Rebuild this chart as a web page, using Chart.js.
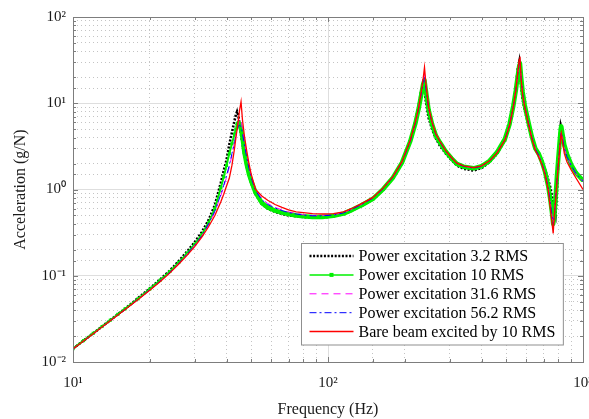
<!DOCTYPE html>
<html>
<head>
<meta charset="utf-8">
<script src="https://cdn.jsdelivr.net/npm/chart.js@4.4.1/dist/chart.umd.min.js"></script>
<style>
  html, body { margin: 0; padding: 0; background: #fff; }
  canvas { display: block; }
</style>
</head>
<body>
<canvas id="frf" width="589" height="419"></canvas>
<script>
// Frequency axis (Hz), shared by all five measurements
const freqHz = [
  10, 11, 12, 13, 14, 15, 16, 18, 20, 22, 24, 26, 28, 30, 32, 34, 36, 38, 39, 40,
  41, 42, 43, 43.5, 44, 44.5, 45, 45.6, 46.2, 47, 48, 49, 50, 52, 55, 58, 62, 66, 70, 75,
  80, 87, 95, 105, 115, 125, 136, 150, 165, 180, 195, 210, 220, 227, 232, 236, 239, 242, 248, 256,
  265, 275, 290, 305, 320, 340, 372, 400, 430, 460, 494, 515, 533, 545, 555, 562, 566, 572, 580, 591,
  610, 630, 650, 670, 690, 710, 730, 745, 755, 764, 772, 780, 790, 800, 810, 818, 822, 830, 845, 865, 899, 940, 1000
];

// Acceleration (g/N)
const accel32 = [
  0.0143, 0.0177, 0.0215, 0.0258, 0.0306, 0.0358, 0.0415, 0.055, 0.071, 0.091, 0.115, 0.148, 0.19, 0.245, 0.32, 0.44, 0.66, 1.2, 1.65, 2.2,
  3.3, 4.6, 6.3, 7.3, 8.0, 7.2, 5.6, 4.3, 3.4, 2.5, 1.85, 1.45, 1.18, 0.88, 0.68, 0.6, 0.55, 0.52, 0.5, 0.49,
  0.48, 0.47, 0.47, 0.49, 0.515, 0.575, 0.65, 0.77, 1.0, 1.37, 2.05, 3.6, 6.0, 9.5, 14, 16.5, 14, 10.5, 6.8, 5.0,
  3.9, 3.2, 2.6, 2.2, 1.9, 1.74, 1.66, 1.77, 2.08, 2.6, 3.75, 5.6, 9.5, 15, 25, 30, 23, 15.5, 11, 8.3,
  5.8, 4.0, 3.0, 2.55, 2.1, 1.7, 1.3, 1.05, 0.85, 0.68, 0.56, 0.5, 0.9, 2.2, 4.0, 5.5, 5.2, 4.2, 3.1, 2.5, 1.9, 1.55, 1.27
];
const accel10 = [
  0.0143, 0.0177, 0.0215, 0.0258, 0.0305, 0.0357, 0.0413, 0.054, 0.07, 0.089, 0.112, 0.143, 0.182, 0.232, 0.3, 0.41, 0.6, 1.05, 1.4, 1.9,
  2.6, 3.4, 4.4, 5.0, 5.5, 5.9, 5.8, 5.0, 4.0, 2.7, 1.95, 1.5, 1.25, 0.92, 0.7, 0.62, 0.57, 0.54, 0.52, 0.5,
  0.49, 0.48, 0.48, 0.495, 0.525, 0.585, 0.66, 0.78, 1.02, 1.38, 2.05, 3.6, 5.8, 8.8, 12.5, 16.5, 18.5, 14, 8.4, 5.7,
  4.2, 3.5, 2.75, 2.3, 1.98, 1.84, 1.76, 1.86, 2.15, 2.7, 3.85, 5.7, 9.3, 14, 21, 27, 29, 20, 13.5, 9.5,
  6.2, 4.1, 3.0, 2.6, 2.1, 1.6, 1.1, 0.75, 0.55, 0.4, 0.5, 0.78, 1.4, 2.3, 3.6, 5.1, 5.4, 4.5, 3.3, 2.6, 1.94, 1.55, 1.27
];
const accel316 = [
  0.0142, 0.0175, 0.0212, 0.0254, 0.03, 0.035, 0.0405, 0.053, 0.068, 0.087, 0.109, 0.139, 0.176, 0.224, 0.29, 0.39, 0.55, 0.85, 1.08, 1.38,
  1.8, 2.5, 3.5, 4.2, 5.1, 6.0, 6.6, 6.3, 5.1, 3.6, 2.5, 1.85, 1.42, 1.0, 0.78, 0.69, 0.62, 0.58, 0.55, 0.53,
  0.51, 0.5, 0.5, 0.51, 0.54, 0.6, 0.68, 0.8, 1.04, 1.41, 2.08, 3.65, 5.9, 9.0, 13, 18, 22, 16, 8.9, 6.0,
  4.4, 3.6, 2.8, 2.35, 2.02, 1.87, 1.78, 1.87, 2.15, 2.66, 3.78, 5.55, 9.1, 14, 22, 30, 31, 19.5, 13, 9.2,
  6.0, 4.0, 2.95, 2.5, 2.0, 1.55, 1.05, 0.7, 0.5, 0.4, 0.5, 0.78, 1.3, 2.0, 3.1, 4.3, 4.7, 4.0, 3.0, 2.4, 1.9, 1.52, 1.24
];
const accel562 = [
  0.0142, 0.0175, 0.0213, 0.0255, 0.0301, 0.0352, 0.0408, 0.0535, 0.069, 0.087, 0.11, 0.14, 0.178, 0.227, 0.29, 0.4, 0.56, 0.88, 1.12, 1.45,
  1.9, 2.6, 3.6, 4.2, 4.9, 5.4, 5.6, 5.3, 4.5, 3.3, 2.35, 1.75, 1.36, 0.97, 0.76, 0.67, 0.61, 0.57, 0.54, 0.52,
  0.505, 0.495, 0.495, 0.505, 0.535, 0.595, 0.675, 0.795, 1.035, 1.4, 2.07, 3.6, 5.9, 8.9, 12.8, 17.5, 20, 15, 8.7, 5.9,
  4.35, 3.55, 2.78, 2.33, 2.0, 1.86, 1.77, 1.86, 2.14, 2.66, 3.78, 5.55, 9.1, 14, 22, 29, 29.5, 19.5, 13, 9.2,
  6.0, 4.0, 2.95, 2.5, 2.0, 1.55, 1.05, 0.7, 0.5, 0.38, 0.48, 0.76, 1.28, 2.0, 3.1, 4.3, 4.6, 4.0, 3.0, 2.4, 1.9, 1.52, 1.24
];
const accelBare = [
  0.0142, 0.0175, 0.0212, 0.0254, 0.03, 0.035, 0.0405, 0.053, 0.068, 0.086, 0.108, 0.137, 0.172, 0.218, 0.28, 0.37, 0.5, 0.72, 0.88, 1.1,
  1.35, 1.9, 3.0, 3.9, 5.0, 6.4, 8.3, 10.4, 6.4, 4.2, 2.8, 2.0, 1.5, 1.0, 0.84, 0.75, 0.67, 0.62, 0.58, 0.55,
  0.54, 0.525, 0.52, 0.525, 0.55, 0.61, 0.69, 0.81, 1.05, 1.42, 2.1, 3.7, 6.0, 9.1, 13.5, 19, 26, 17, 9.1, 6.0,
  4.4, 3.6, 2.8, 2.35, 2.02, 1.88, 1.79, 1.88, 2.15, 2.65, 3.76, 5.5, 9.1, 14, 23, 32, 34.7, 19, 12.5, 9.1,
  5.86, 3.9, 2.85, 2.4, 1.95, 1.5, 1.0, 0.6, 0.42, 0.31, 0.5, 0.72, 1.2, 1.9, 2.9, 4.1, 4.49, 3.7, 2.6, 2.1, 1.69, 1.35, 1.0
];

const seriesLabels = [
  'Power excitation 3.2 RMS',
  'Power excitation 10 RMS',
  'Power excitation 31.6 RMS',
  'Power excitation 56.2 RMS',
  'Bare beam excited by 10 RMS'
];

const xDecades = [10, 100, 1000];
const xDecadeLabels = ['10\u00B9', '10\u00B2', '10\u00B3'];
const yDecades = [0.01, 0.1, 1, 10, 100];
const yDecadeLabels = ['10\u207B\u00B2', '10\u207B\u00B9', '10\u2070', '10\u00B9', '10\u00B2'];

const AXIS_COLOR = '#7d7d7d';
const MAJOR_GRID = '#dedede';
const MINOR_GRID = '#c4c4c4';
const FONT = 'Liberation Serif';

Chart.defaults.font.family = FONT;
Chart.defaults.color = '#1a1a1a';

function toPoints(vals) {
  return vals.map((v, i) => ({x: freqHz[i], y: v}));
}

function isDecade(v) {
  const e = Math.log10(v);
  return Math.abs(e - Math.round(e)) < 1e-6;
}

function decadeLabel(v, decades, labels) {
  const idx = decades.findIndex(d => Math.abs(Math.log10(d) - Math.log10(v)) < 1e-6);
  return idx >= 0 ? labels[idx] : '';
}

function mainGridColor(c) {
  return c.tick && isDecade(c.tick.value) ? MAJOR_GRID : 'rgba(0,0,0,0)';
}

function minorGridColor(c) {
  return c.tick && !isDecade(c.tick.value) ? MINOR_GRID : 'rgba(0,0,0,0)';
}

// MATLAB style box around the axes with inward tick marks
const framePlugin = {
  id: 'frame',
  afterDatasetsDraw(chart) {
    const {ctx, chartArea: a} = chart;
    const xs = chart.scales.x;
    const ys = chart.scales.y;
    ctx.save();
    ctx.strokeStyle = AXIS_COLOR;
    ctx.lineWidth = 1;
    ctx.beginPath();
    xs.ticks.forEach(t => {
      const px = Math.round(xs.getPixelForValue(t.value)) + 0.5;
      const len = isDecade(t.value) ? 5 : 3;
      ctx.moveTo(px, a.bottom); ctx.lineTo(px, a.bottom - len);
      ctx.moveTo(px, a.top); ctx.lineTo(px, a.top + len);
    });
    ys.ticks.forEach(t => {
      const py = Math.round(ys.getPixelForValue(t.value)) + 0.5;
      const len = isDecade(t.value) ? 5 : 3;
      ctx.moveTo(a.left, py); ctx.lineTo(a.left + len, py);
      ctx.moveTo(a.right, py); ctx.lineTo(a.right - len, py);
    });
    ctx.stroke();
    ctx.strokeRect(a.left + 0.5, a.top + 0.5, a.right - a.left, a.bottom - a.top);
    ctx.restore();
  }
};

// Legend box in the lower right corner of the axes
const boxLegendPlugin = {
  id: 'boxLegend',
  afterDraw(chart) {
    const {ctx, chartArea: a} = chart;
    const font = '16px "' + FONT + '"';
    ctx.save();
    ctx.font = font;
    const textW = Math.max(...seriesLabels.map(s => ctx.measureText(s).width));
    const rowH = 18.9;
    const w = 57 + textW + 8;
    const h = rowH * seriesLabels.length + 7;
    const x0 = Math.round(a.right - 20 - w) + 0.5;
    const y0 = Math.round(a.bottom - 18 - h) + 0.5;
    ctx.fillStyle = '#fff';
    ctx.fillRect(x0, y0, w, h);
    ctx.strokeStyle = '#8f8f8f';
    ctx.lineWidth = 1;
    ctx.strokeRect(x0, y0, w, h);

    chart.data.datasets.forEach((ds, i) => {
      const cy = y0 + 12.5 + i * rowH;
      ctx.save();
      ctx.strokeStyle = ds.borderColor;
      ctx.lineWidth = ds.legendWidth;
      ctx.setLineDash(ds.borderDash || []);
      ctx.beginPath();
      ctx.moveTo(x0 + 8, cy);
      ctx.lineTo(x0 + 52, cy);
      ctx.stroke();
      if (ds.pointRadius > 0) {
        ctx.fillStyle = ds.pointBackgroundColor;
        ctx.fillRect(x0 + 30 - 2, cy - 2, 4, 4);
      }
      ctx.restore();
      ctx.fillStyle = '#000';
      ctx.textBaseline = 'middle';
      ctx.textAlign = 'left';
      ctx.fillText(seriesLabels[i], x0 + 57, cy + 1);
    });
    ctx.restore();
  }
};

const datasets = [
  {
    label: seriesLabels[0],
    data: toPoints(accel32),
    borderColor: '#000000',
    borderWidth: 2.6,
    borderDash: [2, 1.6],
    legendWidth: 2.6,
    pointRadius: 0,
    order: 4
  },
  {
    label: seriesLabels[1],
    data: toPoints(accel10),
    borderColor: '#00f000',
    borderWidth: 2,
    borderJoinStyle: 'round',
    legendWidth: 1.5,
    pointStyle: 'rect',
    pointRadius: 2.2,
    pointBorderWidth: 0,
    pointBackgroundColor: '#00f000',
    segment: {
      borderWidth: c => (c.p0.parsed.x < 44 ? 2 : 4.5)
    },
    order: 3
  },
  {
    label: seriesLabels[2],
    data: toPoints(accel316),
    borderColor: '#ff00ff',
    borderWidth: 1,
    borderDash: [7, 5],
    legendWidth: 1,
    pointRadius: 0,
    order: 2
  },
  {
    label: seriesLabels[3],
    data: toPoints(accel562),
    borderColor: '#0000ff',
    borderWidth: 1,
    borderDash: [7, 3, 2, 3],
    legendWidth: 1,
    pointRadius: 0,
    order: 1
  },
  {
    label: seriesLabels[4],
    data: toPoints(accelBare),
    borderColor: '#ff0000',
    borderWidth: 1.3,
    legendWidth: 1.5,
    pointRadius: 0,
    order: 0
  }
];

const chart = new Chart(document.getElementById('frf'), {
  type: 'line',
  data: {datasets: datasets},
  options: {
    responsive: false,
    animation: false,
    devicePixelRatio: 1,
    layout: {padding: {top: 17, right: 6, left: 0, bottom: 0}},
    elements: {line: {tension: 0, borderCapStyle: 'butt'}},
    plugins: {
      legend: {display: false},
      tooltip: {enabled: false}
    },
    scales: {
      x: {
        type: 'logarithmic',
        position: 'bottom',
        min: 10,
        max: 1000,
        border: {display: false},
        grid: {color: mainGridColor, lineWidth: 1, drawTicks: false},
        ticks: {
          autoSkip: false,
          maxRotation: 0,
          padding: 12,
          font: {size: 15},
          callback: v => decadeLabel(v, xDecades, xDecadeLabels)
        },
        title: {display: true, text: 'Frequency (Hz)', font: {size: 16}, padding: {top: 0, bottom: 0}},
        afterFit: s => { s.height = 57; s.paddingLeft = 0; s.paddingRight = 0; }
      },
      x2: {
        type: 'logarithmic',
        position: 'bottom',
        min: 10,
        max: 1000,
        border: {display: false, dash: [1, 3]},
        grid: {color: minorGridColor, lineWidth: 1, drawTicks: false},
        ticks: {display: false},
        afterFit: s => { s.height = 0; s.paddingLeft = 0; s.paddingRight = 0; }
      },
      y: {
        type: 'logarithmic',
        position: 'left',
        min: 0.01,
        max: 100,
        border: {display: false},
        grid: {color: mainGridColor, lineWidth: 1, drawTicks: false},
        ticks: {
          autoSkip: false,
          padding: 7,
          font: {size: 15},
          callback: v => decadeLabel(v, yDecades, yDecadeLabels)
        },
        title: {display: true, text: 'Acceleration (g/N)', font: {size: 16}, padding: {top: 11, bottom: 0}},
        afterFit: s => { s.width = 73; s.paddingTop = 0; s.paddingBottom = 0; }
      },
      y2: {
        type: 'logarithmic',
        position: 'left',
        min: 0.01,
        max: 100,
        border: {display: false, dash: [1, 3]},
        grid: {color: minorGridColor, lineWidth: 1, drawTicks: false},
        ticks: {display: false},
        afterFit: s => { s.width = 0; s.paddingTop = 0; s.paddingBottom = 0; }
      }
    }
  },
  plugins: [framePlugin, boxLegendPlugin]
});
</script>
</body>
</html>
